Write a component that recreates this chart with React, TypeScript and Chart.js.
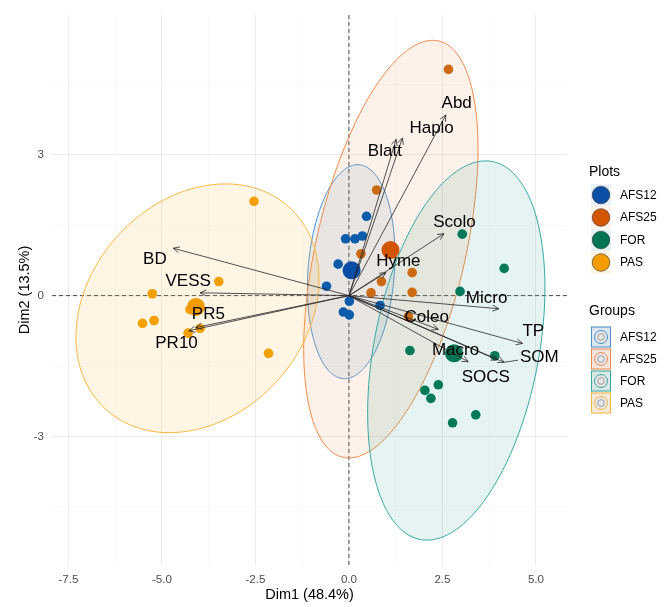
import React, { useEffect, useRef } from 'react';
import { Chart, registerables } from 'chart.js';

Chart.register(...registerables);

const FONT = '"Liberation Sans", Arial, Helvetica, sans-serif';

// ---- data ----
const groups = ['AFS12', 'AFS25', 'FOR', 'PAS'];

const afs12X = [-0.60, -0.29, -0.09, 0.16, 0.36, 0.47, 0.01, -0.15, 0.01, 0.83];
const afs12Y = [0.20, 0.67, 1.21, 1.21, 1.27, 1.69, -0.12, -0.35, -0.41, -0.21];
const afs25X = [0.74, 0.32, 0.87, 0.59, 1.69, 1.69, 2.66, 1.59];
const afs25Y = [2.25, 0.89, 0.30, 0.06, 0.49, 0.07, 4.82, -0.45];
const forX = [3.03, 4.15, 2.97, 1.63, 3.90, 2.39, 2.03, 2.19, 3.39, 2.77];
const forY = [1.31, 0.58, 0.09, -1.17, -1.28, -1.90, -2.02, -2.19, -2.54, -2.71];
const pasX = [-2.54, -3.48, -5.26, -5.52, -5.21, -4.25, -4.30, -3.98, -2.15];
const pasY = [2.01, 0.30, 0.04, -0.59, -0.53, -0.30, -0.80, -0.70, -1.23];

const centroidX = [0.07, 1.11, 2.81, -4.09];
const centroidY = [0.54, 0.97, -1.23, -0.24];

// confidence ellipses: centre, half extents along Dim1/Dim2, correlation
const ellipseCX = [0.06, 1.12, 2.87, -4.05];
const ellipseCY = [0.51, 0.99, -1.17, -0.27];
const ellipseRX = [1.17, 2.33, 2.37, 3.25];
const ellipseRY = [2.28, 4.45, 4.04, 2.65];
const ellipseRho = [0.15, 0.48, 0.33, 0.23];

// variables (arrows)
const varNames = ['BD', 'VESS', 'PR5', 'PR10', 'Blatt', 'Haplo', 'Abd', 'Scolo', 'Hyme', 'Micro', 'Coleo', 'TP', 'SOM', 'SOCS', 'Macro'];
const varX = [-4.70, -3.98, -4.10, -4.28, 1.26, 1.43, 2.59, 2.54, 0.99, 4.01, 2.39, 4.64, 4.15, 3.97, 3.19];
const varY = [1.01, 0.06, -0.68, -0.75, 3.33, 3.36, 3.85, 1.32, 0.49, -0.28, -0.72, -1.02, -1.42, -1.37, -1.41];
const labelX = [-5.19, -4.30, -3.76, -4.61, 0.96, 2.21, 2.88, 2.82, 1.32, 3.68, 2.08, 4.93, 5.09, 3.66, 2.85];
const labelY = [0.77, 0.30, -0.40, -1.02, 3.08, 3.56, 4.09, 1.56, 0.73, -0.05, -0.47, -0.77, -1.31, -1.74, -1.17];
const connectedLabels = ['SOM'];

const xTitle = 'Dim1 (48.4%)';
const yTitle = 'Dim2 (13.5%)';
const xMin = -7.94, xMax = 5.83, yMin = -5.74, yMax = 5.98;

// ---- styles ----
const pointColors = ['#0b5cab', '#cc6a14', '#00795a', '#f2a000'];
const centroidColors = ['#0a4ea6', '#d45500', '#007453', '#f39c00'];
const ellipseLine = ['#4a90d0', '#f08848', '#35a89e', '#f7b640'];
const ellipseFill = ['rgba(74,144,208,0.12)', 'rgba(240,136,72,0.12)', 'rgba(53,168,158,0.13)', 'rgba(247,182,64,0.14)'];

const isMult = (v: number, s: number) => Math.abs(v / s - Math.round(v / s)) < 1e-6;

const overlay = {
  id: 'overlay',
  beforeDatasetsDraw(chart: any) {
    const { ctx, chartArea: a, scales } = chart;
    const x = scales.x, y = scales.y;
    ctx.save();
    ctx.beginPath();
    ctx.rect(a.left, a.top, a.right - a.left, a.bottom - a.top);
    ctx.clip();
    const x0 = x.getPixelForValue(0), y0 = y.getPixelForValue(0);
    ctx.setLineDash([4, 3]);
    ctx.strokeStyle = '#333';
    ctx.lineWidth = 0.9;
    ctx.beginPath(); ctx.moveTo(x0, a.top); ctx.lineTo(x0, a.bottom); ctx.stroke();
    ctx.beginPath(); ctx.moveTo(a.left, y0); ctx.lineTo(a.right, y0); ctx.stroke();
    ctx.setLineDash([]);
    for (let g = 0; g < groups.length; g++) {
      const phi = Math.acos(ellipseRho[g]);
      ctx.beginPath();
      for (let k = 0; k <= 240; k++) {
        const t = (k / 240) * Math.PI * 2;
        const px = x.getPixelForValue(ellipseCX[g] + ellipseRX[g] * Math.cos(t));
        const py = y.getPixelForValue(ellipseCY[g] + ellipseRY[g] * Math.cos(t - phi));
        if (k === 0) ctx.moveTo(px, py); else ctx.lineTo(px, py);
      }
      ctx.closePath();
      ctx.fillStyle = ellipseFill[g];
      ctx.fill();
      ctx.strokeStyle = ellipseLine[g];
      ctx.lineWidth = 1;
      ctx.stroke();
    }
    ctx.restore();
  },
  afterDatasetsDraw(chart: any) {
    const { ctx, scales } = chart;
    const x = scales.x, y = scales.y;
    const x0 = x.getPixelForValue(0), y0 = y.getPixelForValue(0);
    ctx.save();
    ctx.strokeStyle = '#262626';
    ctx.lineWidth = 0.8;
    for (let i = 0; i < varNames.length; i++) {
      const x2 = x.getPixelForValue(varX[i]);
      const y2 = y.getPixelForValue(varY[i]);
      const ang = Math.atan2(y2 - y0, x2 - x0);
      const len = 7, s = 0.45;
      ctx.beginPath();
      ctx.moveTo(x0, y0); ctx.lineTo(x2, y2);
      ctx.moveTo(x2 - len * Math.cos(ang - s), y2 - len * Math.sin(ang - s));
      ctx.lineTo(x2, y2);
      ctx.lineTo(x2 - len * Math.cos(ang + s), y2 - len * Math.sin(ang + s));
      ctx.stroke();
    }
    ctx.font = `17px ${FONT}`;
    ctx.textAlign = 'center';
    ctx.textBaseline = 'middle';
    for (let i = 0; i < varNames.length; i++) {
      const lx = x.getPixelForValue(labelX[i]);
      const ly = y.getPixelForValue(labelY[i]);
      if (connectedLabels.includes(varNames[i])) {
        const tx = x.getPixelForValue(varX[i]);
        const ty = y.getPixelForValue(varY[i]);
        const w = ctx.measureText(varNames[i]).width / 2 + 2;
        const h = 8;
        const dx = tx - lx, dy = ty - ly;
        const f = Math.min(w / Math.abs(dx || 1e-6), h / Math.abs(dy || 1e-6));
        ctx.beginPath();
        ctx.moveTo(tx, ty);
        ctx.lineTo(lx + dx * f, ly + dy * f);
        ctx.stroke();
      }
      ctx.fillStyle = '#000';
      ctx.fillText(varNames[i], lx, ly);
    }
    ctx.restore();
  },
  afterDraw(chart: any) {
    const { ctx } = chart;
    ctx.save();
    ctx.textAlign = 'left';
    ctx.fillStyle = '#000';
    ctx.font = `14px ${FONT}`;
    ctx.textBaseline = 'alphabetic';
    ctx.fillText('Plots', 589, 176);
    const plotY = [195, 217.5, 240, 262.5];
    for (let g = 0; g < groups.length; g++) {
      const yc = plotY[g];
      ctx.fillStyle = ellipseFill[g];
      ctx.fillRect(591, yc - 11, 20, 22);
      ctx.beginPath();
      ctx.arc(601, yc, 8.8, 0, Math.PI * 2);
      ctx.fillStyle = centroidColors[g];
      ctx.fill();
      ctx.strokeStyle = '#333';
      ctx.lineWidth = 0.6;
      ctx.stroke();
      ctx.fillStyle = '#000';
      ctx.font = `12px ${FONT}`;
      ctx.textBaseline = 'middle';
      ctx.fillText(groups[g], 620, yc + 0.5);
    }
    ctx.font = `14px ${FONT}`;
    ctx.textBaseline = 'alphabetic';
    ctx.fillStyle = '#000';
    ctx.fillText('Groups', 589, 315);
    const grpY = [337, 359, 381, 403];
    for (let g = 0; g < groups.length; g++) {
      const yc = grpY[g];
      ctx.fillStyle = '#f2f2f2';
      ctx.fillRect(591, yc - 10.5, 20, 21);
      ctx.fillStyle = ellipseFill[g];
      ctx.fillRect(591, yc - 10.5, 20, 21);
      ctx.strokeStyle = ellipseLine[g];
      ctx.lineWidth = 1;
      ctx.strokeRect(591.5, yc - 10, 19, 20);
      ctx.beginPath();
      ctx.arc(601, yc, 6.5, 0, Math.PI * 2);
      ctx.fillStyle = '#e6e6e6';
      ctx.fill();
      ctx.strokeStyle = ellipseLine[g];
      ctx.stroke();
      ctx.beginPath();
      ctx.arc(601, yc, 3.3, 0, Math.PI * 2);
      ctx.strokeStyle = '#a0a0a0';
      ctx.stroke();
      ctx.fillStyle = '#000';
      ctx.font = `12px ${FONT}`;
      ctx.textBaseline = 'middle';
      ctx.fillText(groups[g], 620, yc + 0.5);
    }
    ctx.restore();
  },
};

const toPts = (xs: number[], ys: number[]) => xs.map((v, i) => ({ x: v, y: ys[i] }));

export default function App() {
  const ref = useRef<HTMLCanvasElement | null>(null);
  useEffect(() => {
    if (!ref.current) return;
    const seriesX = [afs12X, afs25X, forX, pasX];
    const seriesY = [afs12Y, afs25Y, forY, pasY];
    const datasets: any[] = [];
    for (let g = 0; g < groups.length; g++) {
      datasets.push({
        label: groups[g] + ' centroid',
        data: [{ x: centroidX[g], y: centroidY[g] }],
        pointRadius: 9,
        pointBorderWidth: 0,
        backgroundColor: centroidColors[g],
        order: 1,
      });
    }
    for (let g = 0; g < groups.length; g++) {
      datasets.push({
        label: groups[g],
        data: toPts(seriesX[g], seriesY[g]),
        pointRadius: 4.8,
        pointBorderWidth: 0,
        backgroundColor: pointColors[g],
        order: 2,
      });
    }
    const chart = new Chart(ref.current, {
      type: 'scatter',
      data: { datasets },
      plugins: [overlay],
      options: {
        animation: false,
        responsive: false,
        maintainAspectRatio: false,
        layout: { padding: { top: 8, right: 105, left: 0, bottom: 0 } },
        plugins: { legend: { display: false }, tooltip: { enabled: false } },
        scales: {
          x: {
            type: 'linear',
            min: xMin,
            max: xMax,
            border: { display: false },
            grid: {
              drawTicks: false,
              color: (c: any) => (c.tick && isMult(c.tick.value, 2.5) ? '#ebebeb' : '#f5f5f5'),
              lineWidth: (c: any) => (c.tick && isMult(c.tick.value, 2.5) ? 1 : 0.6),
            },
            ticks: {
              stepSize: 1.25,
              includeBounds: false,
              autoSkip: false,
              maxRotation: 0,
              padding: 8,
              color: '#4d4d4d',
              font: { family: FONT, size: 11.6 },
              callback: (v: any) => (isMult(Number(v), 2.5) ? Number(v).toFixed(1) : ''),
            },
            title: { display: true, text: xTitle, color: '#000', font: { family: FONT, size: 14.5 }, padding: { top: 0, bottom: 3 } },
            afterFit: (s: any) => { s.height = 42; },
          },
          y: {
            type: 'linear',
            min: yMin,
            max: yMax,
            border: { display: false },
            grid: {
              drawTicks: false,
              color: (c: any) => (c.tick && isMult(c.tick.value, 3) ? '#ebebeb' : '#f5f5f5'),
              lineWidth: (c: any) => (c.tick && isMult(c.tick.value, 3) ? 1 : 0.6),
            },
            ticks: {
              stepSize: 1.5,
              includeBounds: false,
              autoSkip: false,
              padding: 8,
              color: '#4d4d4d',
              font: { family: FONT, size: 11.6 },
              callback: (v: any) => (isMult(Number(v), 3) ? String(Math.round(Number(v))) : ''),
            },
            title: { display: true, text: yTitle, color: '#000', font: { family: FONT, size: 14.5 }, padding: { top: 16, bottom: 0 } },
            afterFit: (s: any) => { s.width = 52; },
          },
        },
      } as any,
    });
    return () => chart.destroy();
  }, []);
  return (
    <div style={{ position: 'absolute', left: 0, top: 0, width: 672, height: 607, background: '#fff' }}>
      <canvas ref={ref} width={672} height={607} style={{ display: 'block' }} />
    </div>
  );
}
